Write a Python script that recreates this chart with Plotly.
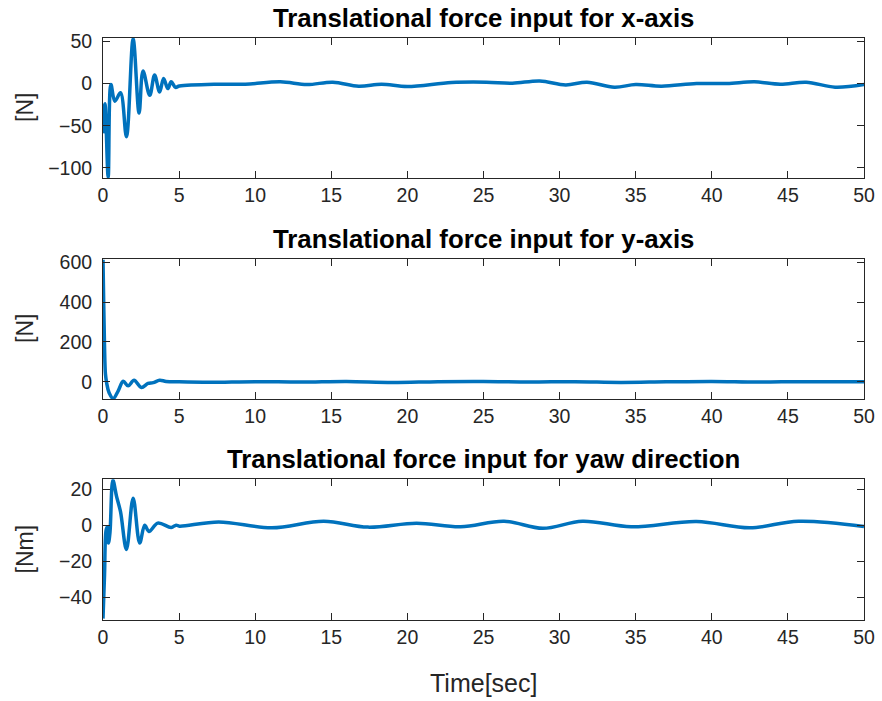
import plotly.graph_objects as go

# ---- data ----
t_x = [0, 0.13, 0.34, 0.52, 0.78, 1.15, 1.54, 1.98, 2.37, 2.63, 3.07, 3.39, 3.72, 3.98, 4.26, 4.48, 4.76, 5.02,
       7.3, 9.35, 11.65, 13.4, 15.1, 16.8, 18.3, 20.0, 22.9, 25.2, 26.9, 28.7, 30.4, 31.8, 33.6, 35.0, 36.7,
       39.0, 41.0, 42.8, 44.5, 46.2, 48.1, 50]
f_x = [-59, -24, -111, -1, -21, -11, -63, 53, -35, 15, -14, 10, -10, 6, -6, 2, -4.5, -3,
       -0.8, -0.8, 2.0, -1.2, 1.6, -3.1, -0.8, -3.5, 1.2, 1.6, 0.4, 3.1, -1.6, 1.6, -4.3, -1.2, -3.1,
       0, 0, 2.0, -0.8, 1.6, -4.3, -1.2]

t_y = [0, 0.05, 0.1, 0.16, 0.24, 0.4, 0.67, 1.0, 1.33, 1.65, 2.04, 2.52, 2.96, 3.3, 3.72, 4.15, 5.0,
       7, 10, 13, 16, 19, 22, 25, 28, 31, 34, 37, 40, 43, 46, 50]
f_y = [612, 380, 180, 40, -5, -55, -84, -45, 3, -20, 8, -28, -8, -4, 8, 2, 0,
       -2, 1, -1, 2, -3, 1, 2, -1, 1, -3, 0, 2, -1, 1, 0]

t_yaw = [0, 0.1, 0.2, 0.28, 0.36, 0.46, 0.65, 0.89, 1.15, 1.54, 1.98, 2.41, 2.74, 3.02, 3.6, 4.48, 4.8, 5.02,
         7.6, 11.1, 14.5, 17.4, 20.6, 23.5, 26.35, 28.9, 31.5, 34.7, 39.0, 42.5, 45.7, 50]
m_yaw = [-52, -28, -3, -1, -10, -4, 25, 16, 7.5, -13.5, 15, -10, 0, -3.5, 1.1, -1.3, 0, -0.6,
         1.8, -1.5, 2.2, -1.1, 1.1, -0.9, 2.2, -1.8, 2.2, -0.9, 2.0, -1.5, 2.2, -0.7]

titles = ["Translational force input for x-axis",
          "Translational force input for y-axis",
          "Translational force input for yaw direction"]
ylabels = ["[N]", "[N]", "[Nm]"]
yticks = [[-100, -50, 0, 50], [0, 200, 400, 600], [-40, -20, 0, 20]]
yranges = [[-112, 54], [-86, 616], [-52.5, 25.5]]
xticks = list(range(0, 51, 5))
xlabel = "Time[sec]"

W, H = 882, 701
color = "#0072BD"
axc = "#262626"

# pixel boxes (top, bottom)
boxes = [(38, 178), (259, 399), (479.3, 619.5)]
xl, xr = 103, 864

fig = go.Figure()
series = [(t_x, f_x), (t_y, f_y), (t_yaw, m_yaw)]
layout = dict(width=W, height=H, margin=dict(l=0, r=0, t=0, b=0, autoexpand=False),
              paper_bgcolor="white", plot_bgcolor="white", showlegend=False,
              font=dict(family="Liberation Sans, Arial, sans-serif", color=axc))
annotations = []
for i, ((tt, vv), (top, bot)) in enumerate(zip(series, boxes)):
    n = "" if i == 0 else str(i + 1)
    fig.add_trace(go.Scatter(x=tt, y=vv, mode="lines", line=dict(color=color, width=3.5, shape="spline", smoothing=1),
                             xaxis="x" + n, yaxis="y" + n))
    layout["xaxis" + n] = dict(domain=[xl / W, xr / W], range=[0, 50], anchor="y" + n,
                               tickvals=xticks, ticks="inside", ticklen=7, tickcolor=axc,
                               showline=True, linecolor=axc, linewidth=1, mirror="ticks",
                               showgrid=False, zeroline=False, tickfont=dict(size=19.5, color=axc),
                               automargin=False)
    layout["yaxis" + n] = dict(domain=[1 - bot / H, 1 - top / H], range=yranges[i], anchor="x" + n,
                               tickvals=yticks[i], ticks="inside", ticklen=7, tickcolor=axc,
                               showline=True, linecolor=axc, linewidth=1, mirror="ticks",
                               showgrid=False, zeroline=False, tickfont=dict(size=19.5, color=axc),
                               ticklabelstandoff=6, automargin=False)
    annotations.append(dict(text="<b>" + titles[i] + "</b>", x=(xl + xr) / 2 / W, y=1 - (top - 20) / H,
                            xref="paper", yref="paper", showarrow=False, xanchor="center", yanchor="middle",
                            font=dict(size=25.8, color="black")))
    annotations.append(dict(text=ylabels[i], x=25 / W, y=1 - (top + bot) / 2 / H, xref="paper", yref="paper",
                            showarrow=False, textangle=-90, xanchor="center", yanchor="middle",
                            font=dict(size=23, color=axc)))
annotations.append(dict(text=xlabel, x=(xl + xr) / 2 / W, y=1 - 683 / H, xref="paper", yref="paper",
                        showarrow=False, xanchor="center", yanchor="middle", font=dict(size=25, color=axc)))
layout["annotations"] = annotations
fig.update_layout(**layout)
fig.write_html("out.html",
               post_script="document.body.style.margin='0';document.body.style.padding='0';"
                           "document.body.style.overflow='hidden';")
